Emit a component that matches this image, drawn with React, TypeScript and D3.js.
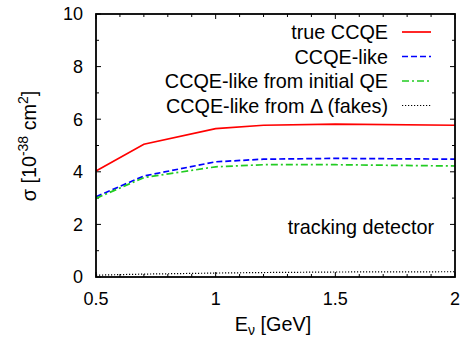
import { useRef, useEffect } from "react";
import * as d3 from "d3";

// energies (GeV) at which the curves are sampled
const energies = [0.5, 0.7, 1.0, 1.2, 1.5, 2.0];

// cross sections in units of 10^-38 cm^2
const trueCCQE = [4.03, 5.05, 5.64, 5.77, 5.81, 5.77];
const ccqeLike = [3.05, 3.84, 4.38, 4.48, 4.51, 4.48];
const ccqeLikeQE = [2.99, 3.78, 4.19, 4.27, 4.27, 4.22];
const ccqeLikeDelta = [0.07, 0.11, 0.15, 0.17, 0.19, 0.2];

const seriesNames = [
  "true CCQE",
  "CCQE-like",
  "CCQE-like from initial QE",
  "CCQE-like from \u0394 (fakes)",
];
const seriesColors = ["#ff0000", "#0000ff", "#22cc22", "#000000"];
const seriesDash = ["", "6,3", "7,3,2,3", "1.2,1.8"];

const xTicks = [0.5, 1, 1.5, 2];
const yTicks = [0, 2, 4, 6, 8, 10];

const W = 468;
const H = 340;
const margin = { top: 14, right: 13, bottom: 63, left: 96 };
const font = "'Liberation Sans', Arial, Helvetica, sans-serif";

const App = () => {
  const svgRef = useRef<SVGSVGElement | null>(null);

  useEffect(() => {
    const innerW = W - margin.left - margin.right;
    const innerH = H - margin.top - margin.bottom;

    const x = d3.scaleLinear().domain([0.5, 2]).range([0, innerW]);
    const y = d3.scaleLinear().domain([0, 10]).range([innerH, 0]);

    const svg = d3.select(svgRef.current);
    svg.selectAll("*").remove();

    const g = svg
      .append("g")
      .attr("transform", `translate(${margin.left},${margin.top})`);

    // tick marks on all four sides, pointing inward
    const xMinor = d3.range(0.5, 2.0001, 0.1);
    const yMinor = d3.range(0, 10.0001, 1);
    const ticks = g.append("g").attr("stroke", "#000").attr("stroke-width", 1);
    xMinor.forEach((v) => {
      const major = xTicks.some((t) => Math.abs(t - v) < 1e-6);
      const len = major ? 5 : 3;
      ticks.append("line").attr("x1", x(v)).attr("x2", x(v)).attr("y1", innerH).attr("y2", innerH - len);
      ticks.append("line").attr("x1", x(v)).attr("x2", x(v)).attr("y1", 0).attr("y2", len);
    });
    yMinor.forEach((v) => {
      const major = yTicks.includes(Math.round(v));
      const len = major ? 5 : 3;
      ticks.append("line").attr("x1", 0).attr("x2", len).attr("y1", y(v)).attr("y2", y(v));
      ticks.append("line").attr("x1", innerW).attr("x2", innerW - len).attr("y1", y(v)).attr("y2", y(v));
    });

    // tick labels
    g.selectAll(".xlab")
      .data(xTicks)
      .join("text")
      .attr("x", (d) => x(d))
      .attr("y", innerH + 28)
      .attr("text-anchor", "middle")
      .attr("font-family", font)
      .attr("font-size", 18)
      .text((d) => String(d));

    g.selectAll(".ylab")
      .data(yTicks)
      .join("text")
      .attr("x", -13)
      .attr("y", (d) => y(d))
      .attr("dy", "0.36em")
      .attr("text-anchor", "end")
      .attr("font-family", font)
      .attr("font-size", 18)
      .text((d) => String(d));

    // curves
    const allSeries = [trueCCQE, ccqeLike, ccqeLikeQE, ccqeLikeDelta];
    const line = d3
      .line<number>()
      .x((_, i) => x(energies[i]))
      .y((d) => y(d));

    allSeries.forEach((s, i) => {
      g.append("path")
        .datum(s)
        .attr("d", line)
        .attr("fill", "none")
        .attr("stroke", seriesColors[i])
        .attr("stroke-width", i === 3 ? 1.2 : 1.7)
        .attr("stroke-dasharray", seriesDash[i] || null);
    });

    // frame
    g.append("rect")
      .attr("width", innerW)
      .attr("height", innerH)
      .attr("fill", "none")
      .attr("stroke", "#000")
      .attr("stroke-width", 1.8);

    // legend
    const legend = g.append("g");
    seriesNames.forEach((name, i) => {
      const ly = 32 - margin.top + i * 24.5;
      legend
        .append("text")
        .attr("x", 388 - margin.left)
        .attr("y", ly)
        .attr("dy", "0.36em")
        .attr("text-anchor", "end")
        .attr("font-family", font)
        .attr("font-size", 19.8)
        .text(name);
      legend
        .append("line")
        .attr("x1", 402 - margin.left)
        .attr("x2", 431 - margin.left)
        .attr("y1", ly)
        .attr("y2", ly)
        .attr("stroke", seriesColors[i])
        .attr("stroke-width", i === 3 ? 1.2 : 1.7)
        .attr("stroke-dasharray", seriesDash[i] || null);
    });

    g.append("text")
      .attr("x", 434 - margin.left)
      .attr("y", 227 - margin.top)
      .attr("dy", "0.36em")
      .attr("text-anchor", "end")
      .attr("font-family", font)
      .attr("font-size", 19.8)
      .text("tracking detector");

    // axis titles
    const xt = svg
      .append("text")
      .attr("x", 273)
      .attr("y", 331)
      .attr("text-anchor", "middle")
      .attr("font-family", font)
      .attr("font-size", 19.8);
    xt.append("tspan").text("E");
    xt.append("tspan").attr("font-size", 14).attr("dy", 4).text("\u03bd");
    xt.append("tspan").attr("dy", -4).text(" [GeV]");

    const yt = svg
      .append("text")
      .attr("transform", `translate(36,146) rotate(-90)`)
      .attr("text-anchor", "middle")
      .attr("font-family", font)
      .attr("font-size", 19.8);
    yt.append("tspan").text("\u03c3 [10");
    yt.append("tspan").attr("font-size", 14).attr("dy", -8).text("-38");
    yt.append("tspan").attr("dy", 8).text(" cm");
    yt.append("tspan").attr("font-size", 14).attr("dy", -8).text("2");
    yt.append("tspan").attr("dy", 8).text("]");
  }, []);

  return (
    <svg
      ref={svgRef}
      width={W}
      height={H}
      style={{ position: "absolute", left: 0, top: 0, background: "#fff" }}
    ></svg>
  );
};

export default App;
